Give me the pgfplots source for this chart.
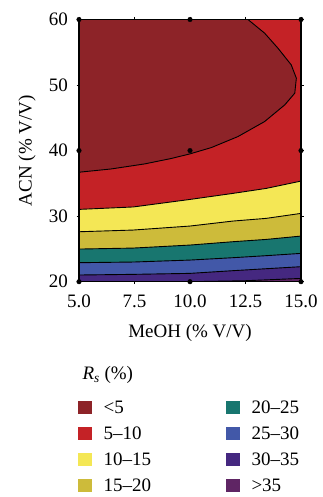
\documentclass[border=0pt]{standalone}
\usepackage{pgfplots}
\pgfplotsset{compat=1.18}
\usepackage{pgfplotstable}
\usepackage{fontspec}
\setmainfont{Liberation Serif}
\definecolor{cA}{RGB}{141,35,40}
\definecolor{cB}{RGB}{196,34,38}
\definecolor{cC}{RGB}{244,231,85}
\definecolor{cD}{RGB}{205,187,58}
\definecolor{cE}{RGB}{24,118,111}
\definecolor{cF}{RGB}{66,88,168}
\definecolor{cG}{RGB}{69,40,128}
\definecolor{cH}{RGB}{95,37,100}
\pgfplotsset{sq/.style={legend image code/.code={\fill[#1] (0pt,0pt) rectangle (12.6pt,12.6pt);}}}
\pgfplotstableread{
x y
5 36.7
6.45 37.2
7.96 37.97
9.16 38.8
10 39.5
10.96 40.46
12.16 42.14
13.36 44.43
14.27 46.98
14.72 48.76
14.79 51.05
14.56 53.08
13.96 55.63
13.36 57.92
12.61 60
5 60
}\cOne
\pgfplotstableread{
x y
5 31.03
7.44 31.4
10 32.55
11.93 33.47
13.43 34.23
15 35.35
}\cTwo
\pgfplotstableread{
x y
5 27.62
7.44 27.88
10 28.49
11.93 29.25
13.43 29.66
15 30.42
}\cThree
\pgfplotstableread{
x y
5 24.98
7.44 25.13
10 25.59
11.93 26.1
13.43 26.45
15 26.96
}\cFour
\pgfplotstableread{
x y
5 22.9
7.44 23.0
10 23.3
11.93 23.66
13.43 23.97
15 24.32
}\cFive
\pgfplotstableread{
x y
5 21.02
7.44 21.12
10 21.27
11.93 21.68
13.43 21.98
15 22.29
}\cSix
\pgfplotstableread{
x y
10 20
12.5 20.15
15 20.5
}\cSeven
\begin{document}
\begin{tikzpicture}[font=\fontsize{19}{22}\selectfont]
\useasboundingbox (0,0) rectangle (322pt,497pt);
\begin{axis}[
  at={(79pt,215.3pt)}, anchor=south west,
  scale only axis, width=222pt, height=262.2pt,
  xmin=5, xmax=15, ymin=20, ymax=60,
  xtick={5,7.5,10,12.5,15}, ytick={20,30,40,50,60},
  xticklabel style={yshift=-7pt, /pgf/number format/.cd, fixed, fixed zerofill, precision=1},
  /pgf/number format/assume math mode=true,
  tick label style={font=\fontsize{19}{22}\selectfont},
  yticklabel style={xshift=-5pt},
  tick align=outside, major tick length=2.5pt,
  tick style={black, line width=0.8pt},
  axis line style={black, line width=1.2pt},
  axis on top,
  xlabel={MeOH (\% V/V)}, ylabel={ACN (\% V/V)},
  xlabel style={at={(axis description cs:0.5,-0.195)}, anchor=center},
  ylabel style={at={(axis description cs:-0.234,0.5)}, anchor=center},
  legend columns=2,
  legend style={at={(axis description cs:-0.0045,-0.453)}, anchor=north west,
    draw=none, fill=none, inner sep=0pt,
    nodes={inner sep=0pt, text height=13pt, text depth=4pt, anchor=base west},
    row sep=9pt, column sep=12.4pt,
    /tikz/every even column/.append style={column sep=75pt},
    font=\fontsize{19}{22}\selectfont},
  legend cell align=left,
]
\addplot[fill=cB, draw=none, forget plot] coordinates {(5,20)(15,20)(15,60)(5,60)} -- cycle;
\addplot[fill=cA, draw=black, line width=0.9pt, forget plot] table {\cOne} -- cycle;
\addplot[fill=cC, draw=black, line width=0.9pt, forget plot] table {\cTwo} \closedcycle;
\addplot[fill=cD, draw=black, line width=0.9pt, forget plot] table {\cThree} \closedcycle;
\addplot[fill=cE, draw=black, line width=0.9pt, forget plot] table {\cFour} \closedcycle;
\addplot[fill=cF, draw=black, line width=0.9pt, forget plot] table {\cFive} \closedcycle;
\addplot[fill=cG, draw=black, line width=0.9pt, forget plot] table {\cSix} \closedcycle;
\addplot[fill=cH, draw=black, line width=0.9pt, forget plot] table {\cSeven} \closedcycle;
\addplot[only marks, mark=*, mark size=2.3pt, black, forget plot] coordinates {
(5,20)(10,20)(15,20)(5,40)(10,40)(15,40)(5,60)(10,60)(15,60)};
\addlegendimage{sq=cA}\addlegendentry{<5}
\addlegendimage{sq=cE}\addlegendentry{20–25}
\addlegendimage{sq=cB}\addlegendentry{5–10}
\addlegendimage{sq=cF}\addlegendentry{25–30}
\addlegendimage{sq=cC}\addlegendentry{10–15}
\addlegendimage{sq=cG}\addlegendentry{30–35}
\addlegendimage{sq=cD}\addlegendentry{15–20}
\addlegendimage{sq=cH}\addlegendentry{>35}
\end{axis}
\node[anchor=base west] at (79pt,117pt) {\textit{R}\textsubscript{\textit{s}} (\%)};
\end{tikzpicture}
\end{document}
